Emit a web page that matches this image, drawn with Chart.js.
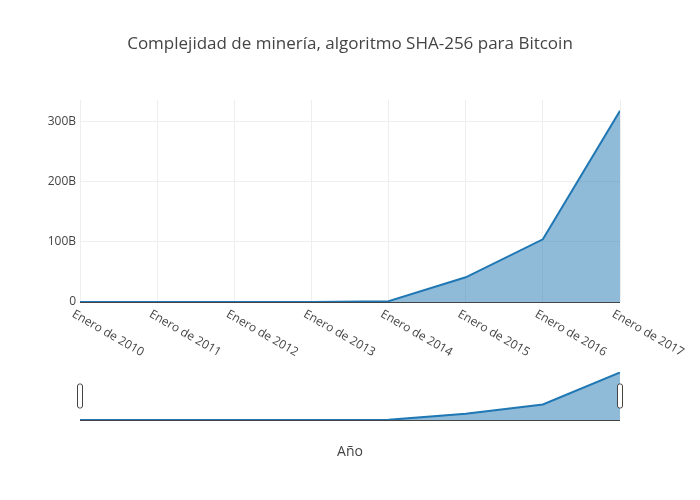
<!DOCTYPE html>
<html><head><meta charset="utf-8">
<script src="https://cdn.jsdelivr.net/npm/chart.js@4/dist/chart.umd.min.js"></script>
<style>body{margin:0;background:#fff}#w{position:relative;width:700px;height:500px}canvas{position:absolute;left:0;top:0}</style>
</head><body><div id="w"><canvas id="c1" width="700" height="500"></canvas><canvas id="c2" width="700" height="500"></canvas></div>
<script>
const years=[2010,2011,2012,2013,2014,2015,2016,2017];
const tickLabels=["Enero de 2010","Enero de 2011","Enero de 2012","Enero de 2013","Enero de 2014","Enero de 2015","Enero de 2016","Enero de 2017"];
const difficulty=[1,15000,1200000,3200000,1400000000,41000000000,104000000000,317000000000];
const yTicks=[0,100e9,200e9,300e9];
const yTickLabels=["0","100B","200B","300B"];
const titleText="Complejidad de minería, algoritmo SHA-256 para Bitcoin";
const xTitle="Año";
const pts=years.map((y,i)=>({x:y,y:difficulty[i]}));
const font='"Open Sans", sans-serif';
Chart.defaults.font.family=font;
const ds={data:pts,borderColor:'#1f77b4',backgroundColor:'rgba(31,119,180,0.5)',fill:'origin',borderWidth:2,pointRadius:0,tension:0};
const mainPlugin={id:'m',afterDraw(ch){const c=ch.ctx,xs=ch.scales.x,ys=ch.scales.y;c.save();
c.fillStyle='#444';c.font='17px '+font;c.textAlign='center';c.textBaseline='middle';c.fillText(titleText,350,44);
c.strokeStyle='#444';c.lineWidth=1;c.beginPath();c.moveTo(ch.chartArea.left,ys.getPixelForValue(0)+0.5);c.lineTo(ch.chartArea.right,ys.getPixelForValue(0)+0.5);c.stroke();
c.font='12px '+font;c.textAlign='left';c.textBaseline='top';
years.forEach((y,i)=>{const px=xs.getPixelForValue(y);c.save();c.translate(px-4,ys.getPixelForValue(0)+6);c.rotate(30*Math.PI/180);c.fillText(tickLabels[i],0,0);c.restore();});
c.restore();}};
new Chart(document.getElementById('c1'),{type:'line',data:{datasets:[ds]},plugins:[mainPlugin],
options:{responsive:false,animation:false,layout:{padding:{top:100,right:80,bottom:198,left:0}},plugins:{legend:{display:false},tooltip:{enabled:false}},
scales:{x:{type:'linear',min:2010,max:2017,afterFit:s=>{s.height=0},ticks:{display:false,stepSize:1},grid:{color:'#eee',drawTicks:false},border:{display:false}},
y:{min:0,max:335e9,afterFit:s=>{s.width=80},afterBuildTicks:s=>{s.ticks=yTicks.map(v=>({value:v}))},ticks:{color:'#444',font:{size:12},padding:4,callback:(v)=>yTickLabels[yTicks.indexOf(v)]},grid:{color:'#eee',drawTicks:false},border:{display:false}}}}});
const sliderPlugin={id:'s',afterDraw(ch){const c=ch.ctx,a=ch.chartArea;c.save();
c.strokeStyle='#444';c.lineWidth=1;c.beginPath();c.moveTo(a.left,a.bottom+0.5);c.lineTo(a.right,a.bottom+0.5);c.stroke();
[a.left,a.right].forEach(x=>{c.fillStyle='#fff';c.strokeStyle='#444';c.beginPath();c.roundRect(x-2.5,384,5,24,2);c.fill();c.stroke();});
c.fillStyle='#444';c.font='14px '+font;c.textAlign='center';c.textBaseline='middle';c.fillText(xTitle,350,452);c.restore();}};
new Chart(document.getElementById('c2'),{type:'line',data:{datasets:[{...ds,data:pts}]},plugins:[sliderPlugin],
options:{responsive:false,animation:false,layout:{padding:{top:372,right:80,bottom:80,left:80}},plugins:{legend:{display:false},tooltip:{enabled:false}},
scales:{x:{type:'linear',min:2010,max:2017,display:false},y:{min:0,max:320e9,display:false}}}});
</script></body></html>
